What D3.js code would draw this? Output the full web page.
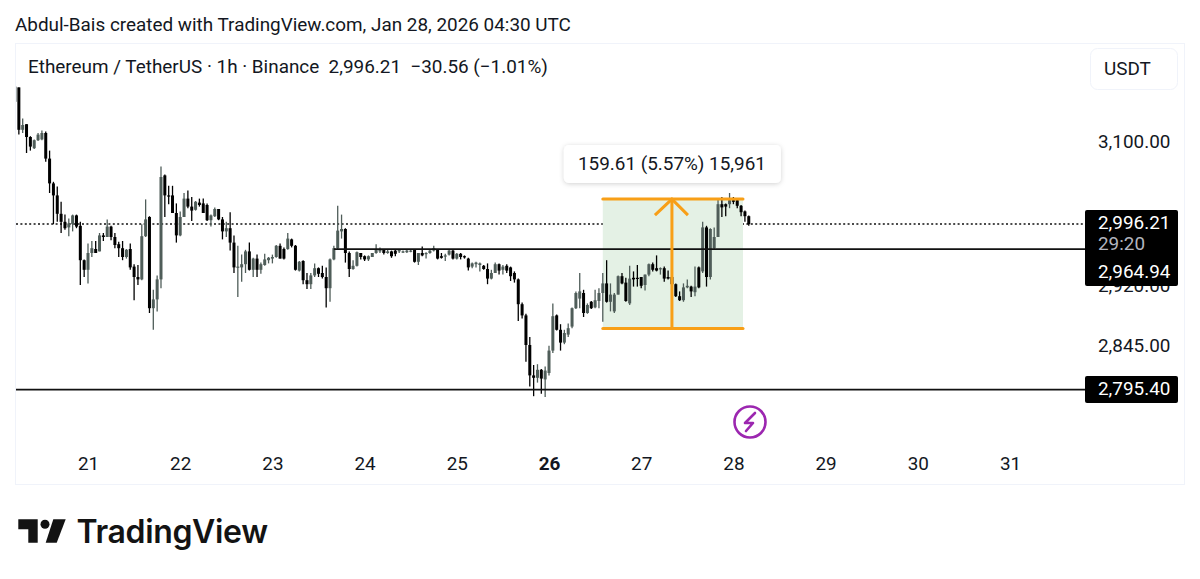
<!DOCTYPE html>
<html>
<head>
<meta charset="utf-8">
<script src="https://cdn.jsdelivr.net/npm/d3@7"></script>
<style>
  html, body { margin: 0; padding: 0; background: #fff; }
  text { font-family: Roboto, sans-serif; fill: #131722; white-space: pre; }
  .domain { display: none; }
  .tick line { display: none; }
</style>
</head>
<body>
<svg id="chart" width="1200" height="579"></svg>
<script>
// hourly candles, first one is Jan 20 05:00 UTC
const firstCandle = Date.UTC(2026, 0, 20, 5);
const opens = [
  3149,3167,3114,3121,3105,3091,3101,3102,3110,3078,
  3047,3032,3009,2999,2992,2996,3007,2994,2951,2939,
  2960,2965,2962,2982,2980,2993,2980,2971,2966,2955,
  2965,2943,2930,2927,2981,3005,2891,2902,2927,3057,
  3032,3032,3010,2982,3005,3028,3018,3014,3023,3022,
  3020,3001,3006,3015,3002,2987,2991,2973,2942,2942,
  2946,2962,2939,2953,2939,2945,2951,2953,2955,2969,
  2965,2965,2977,2969,2938,2950,2926,2921,2932,2941,
  2935,2930,2916,2952,2966,2987,2990,2960,2940,2944,
  2960,2956,2952,2955,2960,2962,2964,2960,2962,2963,
  2962,2961,2961,2962,2964,2949,2960,2959,2960,2963,
  2965,2956,2957,2958,2963,2953,2959,2956,2953,2943,
  2946,2945,2944,2940,2928,2935,2946,2939,2944,2942,
  2935,2927,2896,2882,2845,2807,2804,2814,2802,2810,
  2838,2882,2864,2848,2858,2868,2891,2903,2910,2885,
  2899,2892,2900,2910,2922,2899,2887,2908,2931,2923,
  2897,2929,2929,2930,2920,2933,2946,2941,2940,2941,
  2930,2930,2921,2906,2901,2917,2918,2911,2942,2937,
  2992,2930,2966,2980,3021,3021,3021,3026,3026,3019,
  3012,3006
];
const highs = [
  3168,3167,3128,3121,3106,3102,3110,3113,3112,3088,
  3049,3043,3024,3008,3003,3008,3008,2999,2952,2972,
  2975,2975,2985,2985,3002,2994,2985,2974,2975,2965,
  2972,2946,2945,2996,3027,3006,2914,2932,3068,3058,
  3044,3044,3022,3012,3035,3038,3030,3025,3028,3028,
  3022,3008,3017,3015,3005,2999,3011,2982,2969,2958,
  2964,2973,2954,2958,2948,2959,2955,2958,2970,2972,
  2967,2985,2978,2970,2950,2951,2935,2935,2947,2942,
  2944,2942,2953,2969,3019,3008,2991,2962,2951,2962,
  2960,2957,2957,2960,2971,2967,2965,2964,2963,2964,
  2965,2963,2964,2965,2965,2960,2968,2961,2964,2969,
  2965,2960,2959,2964,2964,2960,2960,2957,2954,2948,
  2949,2948,2945,2947,2939,2948,2947,2945,2946,2943,
  2937,2928,2898,2884,2855,2820,2821,2815,2818,2844,
  2897,2883,2871,2864,2872,2892,2912,2935,2914,2897,
  2900,2914,2916,2935,2951,2922,2910,2932,2935,2929,
  2944,2937,2945,2930,2933,2947,2948,2957,2942,2943,
  2938,2931,2922,2912,2922,2927,2919,2943,2943,2999,
  2994,2991,2992,3028,3030,3022,3035,3030,3027,3020,
  3013,3007
];
const lows = [
  3149,3108,3110,3085,3088,3090,3100,3101,3074,3035,
  2996,2999,2985,2989,2981,2987,2991,2920,2930,2922,
  2955,2960,2962,2975,2980,2976,2966,2955,2951,2953,
  2939,2901,2920,2926,2980,2885,2864,2887,2916,3005,
  3021,3010,2973,2981,3005,3016,3000,3013,3018,3010,
  3000,2993,3005,3001,2977,2980,2963,2935,2905,2924,
  2935,2938,2930,2930,2934,2944,2947,2947,2954,2953,
  2952,2964,2967,2938,2937,2921,2915,2915,2930,2930,
  2928,2892,2899,2951,2965,2978,2948,2930,2939,2943,
  2952,2950,2950,2955,2959,2960,2958,2959,2954,2956,
  2960,2960,2960,2961,2948,2945,2956,2953,2959,2962,
  2952,2953,2950,2957,2952,2952,2952,2953,2938,2941,
  2942,2937,2939,2921,2927,2935,2933,2933,2935,2925,
  2923,2875,2878,2824,2793,2781,2798,2784,2780,2807,
  2835,2863,2838,2846,2855,2866,2890,2891,2880,2884,
  2890,2891,2891,2874,2898,2887,2885,2908,2921,2899,
  2895,2918,2918,2916,2913,2931,2937,2937,2933,2924,
  2927,2919,2905,2900,2899,2916,2905,2906,2916,2935,
  2918,2927,2965,2980,3005,3006,3016,3021,3016,3006,
  2999,2994
];
const closes = [
  3168,3114,3120,3105,3093,3101,3108,3110,3078,3047,
  3032,3009,2999,2991,2997,3007,2993,2951,2939,2960,
  2966,2960,2982,2980,2993,2980,2970,2966,2955,2964,
  2942,2930,2927,2981,3002,2891,2902,2927,3055,3032,
  3031,3010,2982,3005,3028,3018,3013,3024,3020,3010,
  3001,3007,3015,3002,2987,2991,2973,2942,2943,2946,
  2962,2939,2953,2939,2946,2952,2954,2955,2969,2953,
  2953,2978,2969,2939,2949,2926,2921,2932,2941,2934,
  2930,2916,2952,2966,2988,2990,2960,2940,2944,2961,
  2955,2952,2956,2960,2965,2965,2960,2962,2956,2959,
  2964,2962,2963,2963,2949,2960,2957,2960,2963,2966,
  2953,2954,2957,2963,2953,2959,2955,2955,2942,2947,
  2948,2947,2940,2928,2935,2946,2938,2943,2938,2931,
  2927,2896,2882,2845,2807,2804,2814,2803,2813,2838,
  2881,2864,2848,2860,2866,2891,2910,2912,2885,2895,
  2891,2901,2910,2922,2899,2908,2908,2931,2922,2900,
  2928,2927,2928,2919,2933,2946,2939,2938,2941,2928,
  2928,2921,2906,2901,2917,2919,2912,2918,2917,2992,
  2930,2990,2980,3021,3017,3018,3026,3024,3019,3011,
  3006,2996
];

const dayTicks = [21, 22, 23, 24, 25, 26, 27, 28, 29, 30, 31];
const boldDay = 26;
const priceTicks = [3100, 2920, 2845];

const lastPrice = 2996.21;
const countdown = "29:20";
const levelPrices = [2964.94, 2789.2]; // where the lines sit on the picture
const levelLabels = ["2,964.94", "2,795.40"];
const levelStarts = [Date.UTC(2026, 0, 23, 16), Date.UTC(2026, 0, 20, 0)];

// long position drawing
const rangeBottom = 2865.6;
const rangeTop = 3027.4;
const rangeStart = Date.UTC(2026, 0, 26, 14);
const rangeEnd = Date.UTC(2026, 0, 28, 2, 30);
const rangeArrow = Date.UTC(2026, 0, 27, 8);
const rangeLabel = "159.61 (5.57%) 15,961";

const titleText = "Abdul-Bais created with TradingView.com, Jan 28, 2026 04:30 UTC";
const legendText = "Ethereum / TetherUS \u00b7 1h \u00b7 Binance  2,996.21  \u221230.56 (\u22121.01%)";

const HOUR = 3600000;
const upColor = "#4f5d59";
const downColor = "#000";
const orange = "#f89f17";
const plotLeft = 16, plotRight = 1085;
const fontSize = 18.9;

const svg = d3.select("#chart");

const x = d3.scaleUtc()
  .domain([Date.UTC(2026, 0, 21), Date.UTC(2026, 0, 31)])
  .range([88, 1010]);
const y = d3.scaleLinear().domain([2845, 3100]).range([345, 141]);

const candles = d3.range(opens.length).map(i => ({
  t: firstCandle + i * HOUR,
  o: opens[i], h: highs[i], l: lows[i], c: closes[i]
}));

svg.append("defs").append("clipPath").attr("id", "plot")
  .append("rect").attr("x", plotLeft).attr("y", 44).attr("width", plotRight - plotLeft).attr("height", 440);
const shadow = svg.select("defs").append("filter").attr("id", "soft")
  .attr("x", "-10%").attr("y", "-30%").attr("width", "120%").attr("height", "170%");
shadow.append("feDropShadow").attr("dx", 0).attr("dy", 1).attr("stdDeviation", 2.5)
  .attr("flood-color", "#000").attr("flood-opacity", 0.18);

// frame
svg.append("rect").attr("x", 15.5).attr("y", 43.5).attr("width", 1169).attr("height", 441)
  .attr("fill", "#fff").attr("stroke", "#f0f3fa");

svg.append("text").attr("x", 15).attr("y", 30.5).attr("font-size", fontSize).text(titleText);
svg.append("text").attr("x", 28).attr("y", 72.5).attr("font-size", fontSize).text(legendText);

// price axis
const yAxis = svg.append("g").attr("transform", "translate(1098,0)")
  .call(d3.axisRight(y).tickValues(priceTicks).tickSize(0).tickPadding(0).tickFormat(d3.format(",.2f")));
yAxis.selectAll("text").attr("font-size", fontSize);

// time axis
const xAxis = svg.append("g").attr("transform", "translate(0,457)")
  .call(d3.axisBottom(x)
    .tickValues(dayTicks.map(d => new Date(Date.UTC(2026, 0, d))))
    .tickSize(0).tickPadding(0)
    .tickFormat(d3.utcFormat("%-d")));
xAxis.selectAll("text")
  .attr("font-size", fontSize)
  .attr("font-weight", d => d.getUTCDate() === boldDay ? 700 : 400);

const plot = svg.append("g").attr("clip-path", "url(#plot)");

// last price dotted line
plot.append("line")
  .attr("x1", plotLeft).attr("x2", plotRight)
  .attr("y1", y(lastPrice)).attr("y2", y(lastPrice))
  .attr("stroke", "#111").attr("stroke-width", 1.5).attr("stroke-dasharray", "2 2.4");

// position fill
plot.append("rect")
  .attr("x", x(rangeStart)).attr("width", x(rangeEnd) - x(rangeStart))
  .attr("y", y(rangeTop)).attr("height", y(rangeBottom) - y(rangeTop))
  .attr("fill", "#e4f1e5");

// candles
const color = d => d.c >= d.o ? upColor : downColor;
plot.append("g").selectAll("line").data(candles).join("line")
  .attr("x1", d => x(d.t)).attr("x2", d => x(d.t))
  .attr("y1", d => y(d.h)).attr("y2", d => y(d.l))
  .attr("stroke", color).attr("stroke-width", 1.3);
plot.append("g").selectAll("rect").data(candles).join("rect")
  .attr("x", d => x(d.t) - 1.5).attr("width", 3)
  .attr("y", d => y(Math.max(d.o, d.c)))
  .attr("height", d => Math.max(1.2, Math.abs(y(d.o) - y(d.c))))
  .attr("fill", color);

// horizontal levels
plot.append("g").selectAll("line").data(levelPrices).join("line")
  .attr("x1", (d, i) => x(levelStarts[i])).attr("x2", plotRight)
  .attr("y1", d => y(d)).attr("y2", d => y(d))
  .attr("stroke", "#111").attr("stroke-width", 1.7);

// position lines and arrow
const range = svg.append("g").attr("stroke", orange).attr("stroke-width", 3).attr("fill", "none");
[rangeTop, rangeBottom].forEach(p => {
  range.append("line")
    .attr("x1", x(rangeStart)).attr("x2", x(rangeEnd))
    .attr("y1", y(p)).attr("y2", y(p)).attr("stroke-linecap", "round");
});
range.append("line")
  .attr("x1", x(rangeArrow)).attr("x2", x(rangeArrow))
  .attr("y1", y(rangeBottom)).attr("y2", y(rangeTop));
range.append("path")
  .attr("d", d3.line()([
    [x(rangeArrow) - 17, y(rangeTop) + 16],
    [x(rangeArrow), y(rangeTop)],
    [x(rangeArrow) + 16, y(rangeTop) + 16]
  ]));

// position label
const labelBox = svg.append("g").attr("transform", `translate(${x(rangeArrow)},164)`);
labelBox.append("rect").attr("x", -108).attr("y", -19).attr("width", 217).attr("height", 38).attr("rx", 5)
  .attr("fill", "#fff").attr("filter", "url(#soft)");
labelBox.append("text").attr("text-anchor", "middle").attr("dy", "0.32em").attr("font-size", fontSize).text(rangeLabel);

// currency button
svg.append("rect").attr("x", 1090.5).attr("y", 48.5).attr("width", 87).attr("height", 41).attr("rx", 7)
  .attr("fill", "#fff").attr("stroke", "#f0f3fa");
svg.append("text").attr("x", 1104).attr("y", 75).attr("font-size", fontSize).text("USDT");

// price labels
svg.append("rect").attr("x", 1085).attr("y", 210).attr("width", 93).attr("height", 76).attr("rx", 2).attr("fill", "#000");
svg.append("rect").attr("x", 1085).attr("y", 376).attr("width", 93).attr("height", 27).attr("rx", 2).attr("fill", "#000");
const priceLabel = (py, txt, fill) => svg.append("text")
  .attr("x", 1098).attr("y", py).attr("font-size", fontSize).style("fill", fill).text(txt);
priceLabel(y(lastPrice) + 4.5, d3.format(",.2f")(lastPrice), "#fff");
priceLabel(y(lastPrice) + 25.5, countdown, "#b2b5be");
priceLabel(277.5, levelLabels[0], "#fff");
priceLabel(y(levelPrices[1]) + 5.5, levelLabels[1], "#fff");

// lightning event marker
const bolt = svg.append("g").attr("transform", "translate(750,422)");
bolt.append("circle").attr("r", 15.5).attr("fill", "#fff").attr("stroke", "#9c27b0").attr("stroke-width", 2.6);
bolt.append("path").attr("d", "M5,-9 L-5,1 L3,1 L-4,9")
  .attr("fill", "none").attr("stroke", "#9c27b0").attr("stroke-width", 2.6)
  .attr("stroke-linecap", "round").attr("stroke-linejoin", "round");

// logo
const logo = svg.append("g").attr("fill", "#131313");
logo.append("path").attr("d", "M18.3,519.3 H37.7 V542.7 H28.3 V529.3 H18.3 Z");
logo.append("circle").attr("cx", 45).attr("cy", 524.3).attr("r", 4.5);
logo.append("path").attr("d", "M53.3,519.3 H65.7 L56.7,542.7 H45.7 Z");
svg.append("text").attr("x", 76.5).attr("y", 543)
  .style("font-family", "Inter, sans-serif").style("letter-spacing", "-0.35px")
  .attr("font-size", 32).attr("font-weight", 600).style("fill", "#131313").text("TradingView");
</script>
</body>
</html>
